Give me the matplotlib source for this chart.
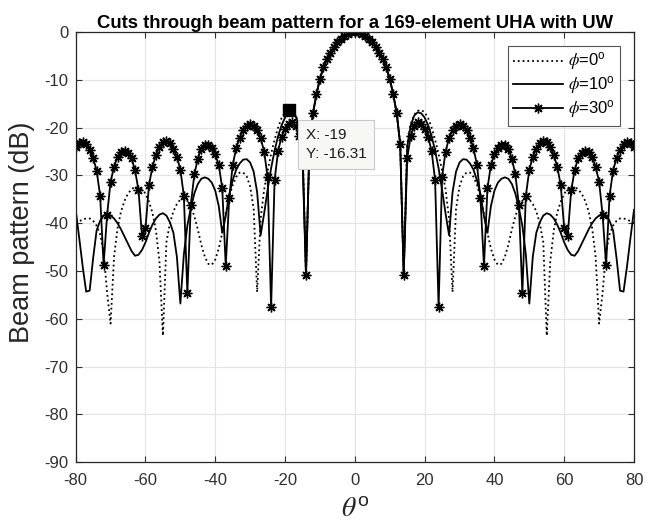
"""Cuts through beam pattern for a 169-element UHA with UW."""

import matplotlib
matplotlib.use("Agg")
import matplotlib.pyplot as plt
import numpy as np

plt.rcParams['font.family'] = ['Liberation Sans', 'DejaVu Sans']
plt.rcParams['mathtext.fontset'] = 'stix'
plt.rcParams['axes.unicode_minus'] = False

# theta from 0 to 80 deg (1 deg steps); the cuts are symmetric about 0
theta_half = list(range(0, 81))

main_lobe = [0.0, -0.1, -0.35, -0.8, -1.4, -2.2, -3.15, -4.3, -5.6, -7.4,
             -9.8, -13.0, -17.0, -23.5]

phi0_side = [-50.8, -23.5, -19.3, -17.3, -16.5, -16.31, -16.8, -18.0, -20.0,
             -22.5, -25.5, -29.0, -33.0, -39.0, -54.4, -37.0, -32.3, -30.2,
             -29.4, -29.4, -30.3, -32.0, -34.5, -38.0, -42.0, -45.3, -47.6,
             -48.7, -48.5, -47.0, -44.5, -41.3, -38.5, -36.5, -35.3, -34.9,
             -35.0, -36.0, -37.5, -40.0, -44.0, -63.5, -48.0, -41.5, -37.8,
             -35.5, -33.8, -32.9, -32.4, -32.4, -32.9, -33.8, -35.3, -37.5,
             -41.0, -47.0, -61.0, -54.5, -46.0, -42.3, -40.5, -39.5, -39.0,
             -39.0, -39.2, -39.6, -40.0]

phi10_side = [-50.8, -24.0, -19.6, -17.5, -16.8, -17.0, -17.9, -19.5, -21.8,
              -24.8, -28.5, -33.0, -38.0, -42.5, -33.5, -29.2, -27.3, -26.6,
              -26.7, -27.5, -28.8, -31.0, -34.0, -38.5, -42.0, -36.4, -33.2,
              -31.5, -30.7, -30.4, -30.7, -31.8, -33.8, -36.8, -40.5, -46.5,
              -56.8, -47.0, -42.0, -39.8, -38.4, -37.9, -38.2, -39.0, -40.3,
              -42.0, -44.0, -45.6, -46.6, -46.8, -45.8, -44.3, -42.8, -41.3,
              -40.0, -39.0, -38.4, -38.1, -38.4, -39.5, -41.5, -47.3, -54.1,
              -54.3, -49.0, -43.0, -37.2]

phi30_side = [-50.8, -26.4, -21.8, -19.7, -18.9, -19.2, -20.2, -21.9, -24.9,
              -31.0, -57.6, -30.3, -25.0, -22.2, -20.5, -19.6, -19.3, -19.6,
              -20.6, -22.1, -24.3, -27.8, -34.8, -49.0, -32.7, -27.8, -25.6,
              -24.3, -23.6, -23.6, -24.4, -26.5, -29.8, -36.1, -54.6, -34.3,
              -28.8, -26.1, -24.4, -23.3, -22.9, -23.0, -24.0, -25.7, -28.2,
              -32.0, -41.1, -42.7, -33.1, -28.9, -26.4, -25.4, -24.9, -25.0,
              -26.1, -28.2, -31.3, -38.3, -48.7, -34.2, -29.0, -26.3, -24.6,
              -23.5, -23.1, -23.3, -24.0]

labels = [r'$\phi$=0$^{\mathregular{o}}$', r'$\phi$=10$^{\mathregular{o}}$',
          r'$\phi$=30$^{\mathregular{o}}$']

tip_x = -19
tip_y = -16.31


def full_cut(side):
    """Mirror the half cut (0..80 deg) onto -80..80 deg."""
    half = np.array(main_lobe + side)
    return np.concatenate([half[:0:-1], half])


theta = np.concatenate([-np.array(theta_half)[:0:-1], np.array(theta_half)])

fig = plt.figure(figsize=(6.57, 5.26), dpi=100)
ax = fig.add_axes([0.1152, 0.1211, 0.8498, 0.8181])

ax.plot(theta, full_cut(phi0_side), ':', color='k', lw=1.3, label=labels[0])
ax.plot(theta, full_cut(phi10_side), '-', color='k', lw=1.3, label=labels[1])
ax.plot(theta, full_cut(phi30_side), '-', color='k', lw=1.3,
        marker=(8, 2, 0), markersize=7, markeredgewidth=1.0, label=labels[2])

# data tip
ax.plot([tip_x], [tip_y], 's', color='k', markersize=9, zorder=5)
ax.annotate("X: %d\nY: %.2f" % (tip_x, tip_y), xy=(tip_x, tip_y),
            xytext=(17, -18), textcoords='offset pixels', ha='left', va='top',
            fontsize=11, linespacing=1.45, color='#1a1a1a', zorder=6,
            bbox=dict(boxstyle='square,pad=0.5', fc='#f7f8f4', ec='#c8c8c8',
                      lw=0.8))

ax.set_xlim(-80, 80)
ax.set_ylim(-90, 0)
ax.set_xticks(np.arange(-80, 81, 20))
ax.set_yticks(np.arange(-90, 1, 10))
ax.grid(True, color='#e4e4e4', lw=0.8)
ax.set_axisbelow(True)
for sp in ax.spines.values():
    sp.set_color('#262626')
    sp.set_linewidth(0.9)
ax.tick_params(direction='in', top=True, right=True, length=4, width=0.8,
               colors='#303030', labelsize=12)
ax.tick_params(axis='x', pad=8)
ax.tick_params(axis='y', pad=5)

ax.set_title('Cuts through beam pattern for a 169-element UHA with UW',
             fontsize=13.3, fontweight='bold', pad=3)
ax.set_ylabel('Beam pattern (dB)', fontsize=19.5, color='#262626',
              labelpad=7)
ax.yaxis.label.set_y(0.535)
ax.set_xlabel(r'$\theta^{\mathregular{o}}$', fontsize=20, color='#262626',
              labelpad=6)

leg = ax.legend(loc='upper right', fontsize=12, handlelength=3.0,
                borderaxespad=0.85, borderpad=0.3, fancybox=False,
                framealpha=1, labelspacing=0.1, handletextpad=0.3)
leg.get_frame().set_edgecolor('#555555')
leg.get_frame().set_linewidth(0.8)

fig.savefig('out.png', dpi=100)
